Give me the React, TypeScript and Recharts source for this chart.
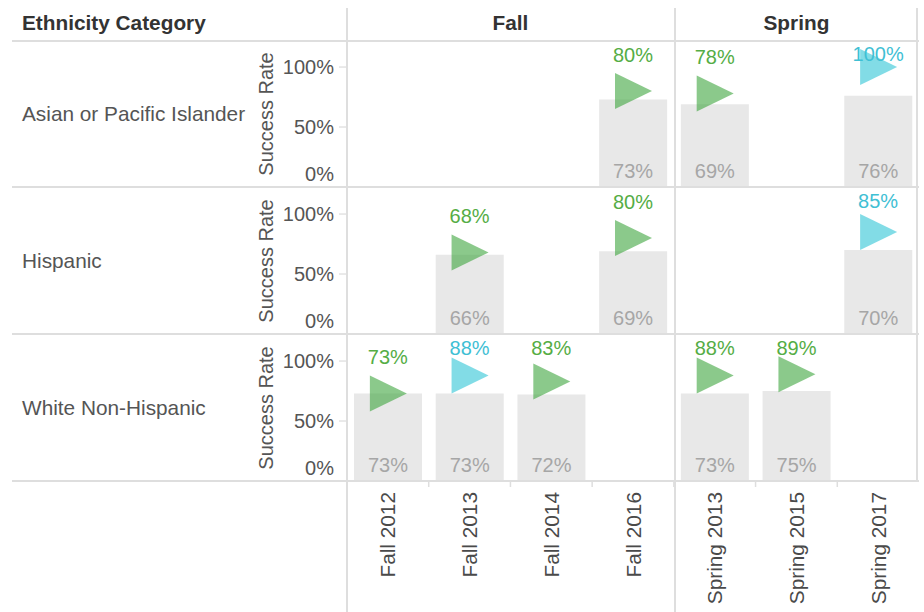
import React from 'react';
import { ComposedChart, Bar, Scatter, XAxis, YAxis, LabelList } from 'recharts';

// columns, left to right
const terms = ['Fall 2012', 'Fall 2013', 'Fall 2014', 'Fall 2016', 'Spring 2013', 'Spring 2015', 'Spring 2017'];
const ethnicities = ['Asian or Pacific Islander', 'Hispanic', 'White Non-Hispanic'];

// gray bars: success rate
const asianRate = [null, null, null, 73, 69, null, 76];
const hispanicRate = [null, 66, null, 69, null, null, 70];
const whiteRate = [73, 73, 72, null, 73, 75, null];

// triangle markers
const asianTarget = [null, null, null, 80, 78, null, 100];
const hispanicTarget = [null, 68, null, 80, null, null, 85];
const whiteTarget = [73, 88, 83, null, 88, 89, null];

// marker colour group
const asianGroup = [null, null, null, 'green', 'green', null, 'cyan'];
const hispanicGroup = [null, 'green', null, 'green', null, null, 'cyan'];
const whiteGroup = ['green', 'cyan', 'green', null, 'green', 'green', null];

const yTicks = [0, 50, 100];

const rates = [asianRate, hispanicRate, whiteRate];
const targets = [asianTarget, hispanicTarget, whiteTarget];
const groups = [asianGroup, hispanicGroup, whiteGroup];

const rows = ethnicities.map((name, i) =>
  terms.map((term, j) => ({
    term,
    rate: rates[i][j],
    target: targets[i][j],
    group: groups[i][j],
  }))
);

const FONT = "'Liberation Sans', Arial, sans-serif";
const FS = 20;
const FS_HEAD = 20.8;
const LINE = '#dedede';

const markerColors: any = {
  green: { fill: '#3da53d', text: '#55ad45' },
  cyan: { fill: '#2ec5d6', text: '#3fc0d4' },
};

const CHART_LEFT = 250;
const PLOT_LEFT = 347;
const PLOT_RIGHT = 919;
const CHART_W = PLOT_RIGHT - CHART_LEFT;
const BAND = (PLOT_RIGHT - PLOT_LEFT) / terms.length;
const ROW_H = 146;
const ROW_TOPS = [41, 188, 335];
const X_AXIS_H = 131;

const YTick = (props: any) => {
  const { x, y, payload } = props;
  const v = payload.value;
  return (
    <text x={x} y={v === 0 ? y - 13 : y} textAnchor="end" dominantBaseline="central"
      fill="#555" fontSize={FS} fontFamily={FONT}>
      {v}%
    </text>
  );
};

const XTick = (props: any) => {
  const { x, y, payload } = props;
  const ty = y + 11;
  return (
    <g>
      <line x1={x - BAND / 2} y1={y} x2={x - BAND / 2} y2={y + 6} stroke={LINE} strokeWidth={1.5} />
      <text x={x} y={ty} transform={`rotate(-90 ${x} ${ty})`} textAnchor="end" dominantBaseline="central"
        fill="#4a4a4a" fontSize={FS_HEAD} fontFamily={FONT}>
        {payload.value}
      </text>
    </g>
  );
};

const AxisTitle = (props: any) => {
  const vb = props.viewBox;
  const cx = vb.x + 16;
  const cy = vb.y + vb.height / 2;
  return (
    <text x={cx} y={cy} transform={`rotate(-90 ${cx} ${cy})`} textAnchor="middle" dominantBaseline="central"
      fill="#555" fontSize={FS} fontFamily={FONT}>
      Success Rate
    </text>
  );
};

const BarValue = (props: any) => {
  const { x, y, width, height, value } = props;
  if (value == null) return null;
  return (
    <text x={x + width / 2} y={y + height - 16} textAnchor="middle" dominantBaseline="central"
      fill="#a6a6a6" fontSize={FS} fontFamily={FONT}>
      {value}%
    </text>
  );
};

const Marker = (props: any) => {
  const { cx, cy, payload } = props;
  if (!payload || payload.target == null || cx == null || cy == null || isNaN(cy)) return <g />;
  const c = markerColors[payload.group];
  const ly = Math.max(cy - 36, 13);
  return (
    <g>
      <path d={`M${cx - 18},${cy - 18} L${cx + 19},${cy} L${cx - 18},${cy + 18} Z`} fill={c.fill} fillOpacity={0.6} />
      <text x={cx} y={ly} textAnchor="middle" dominantBaseline="central" fill={c.text} fontSize={FS} fontFamily={FONT}>
        {payload.target}%
      </text>
    </g>
  );
};

const RowChart = ({ data, last }: { data: any[]; last: boolean }) => (
  <ComposedChart width={CHART_W} height={ROW_H + (last ? X_AXIS_H : 0)} data={data}
    margin={{ top: 0, right: 0, bottom: 0, left: 0 }}>
    <XAxis dataKey="term" hide={!last} height={X_AXIS_H} axisLine={false} tickLine={false}
      tickSize={0} tickMargin={0} interval={0} tick={<XTick />} />
    <YAxis width={PLOT_LEFT - CHART_LEFT} domain={[0, 121.7]} ticks={yTicks} allowDataOverflow interval={0}
      axisLine={false} tickSize={8} tickMargin={5} tickLine={{ stroke: '#d4d4d4' }}
      tick={<YTick />} label={<AxisTitle />} />
    <Bar dataKey="rate" fill="#e8e8e8" barSize={68} isAnimationActive={false}>
      <LabelList dataKey="rate" content={<BarValue />} />
    </Bar>
    <Scatter dataKey="target" shape={<Marker />} isAnimationActive={false} />
  </ComposedChart>
);

const hLine = (top: number) => (
  <div key={'h' + top} style={{ position: 'absolute', left: 12, top, width: PLOT_RIGHT - 12, height: 2, background: LINE }} />
);
const vLine = (left: number, bottom: number) => (
  <div key={'v' + left} style={{ position: 'absolute', left, top: 8, width: 2, height: bottom - 8, background: LINE }} />
);

const headStyle: any = {
  position: 'absolute', top: 12, lineHeight: '22px', fontSize: FS_HEAD, fontWeight: 'bold', color: '#333',
};

export default function App() {
  const split = PLOT_LEFT + 4 * BAND;
  const fallCenter = (PLOT_LEFT + split) / 2;
  const springCenter = (split + PLOT_RIGHT) / 2;
  return (
    <div style={{ position: 'absolute', left: 0, top: 0, width: 924, height: 612, background: '#fff', fontFamily: FONT, overflow: 'hidden' }}>
      {rows.map((data, i) => (
        <div key={i} style={{ position: 'absolute', left: CHART_LEFT, top: ROW_TOPS[i] }}>
          <RowChart data={data} last={i === rows.length - 1} />
        </div>
      ))}
      {ethnicities.map((name, i) => (
        <div key={name} style={{ position: 'absolute', left: 22, top: ROW_TOPS[i], height: ROW_H, display: 'flex', alignItems: 'center', fontSize: FS_HEAD, color: '#555' }}>
          {name}
        </div>
      ))}
      <div style={{ ...headStyle, left: 22 }}>Ethnicity Category</div>
      <div style={{ ...headStyle, left: fallCenter - 100, width: 200, textAlign: 'center' }}>Fall</div>
      <div style={{ ...headStyle, left: springCenter - 100, width: 200, textAlign: 'center' }}>Spring</div>
      {[40, 186, 333, 480].map(hLine)}
      {vLine(PLOT_LEFT - 1, 612)}
      {vLine(Math.round(split), 612)}
      {vLine(PLOT_RIGHT - 3, 481)}
    </div>
  );
}
